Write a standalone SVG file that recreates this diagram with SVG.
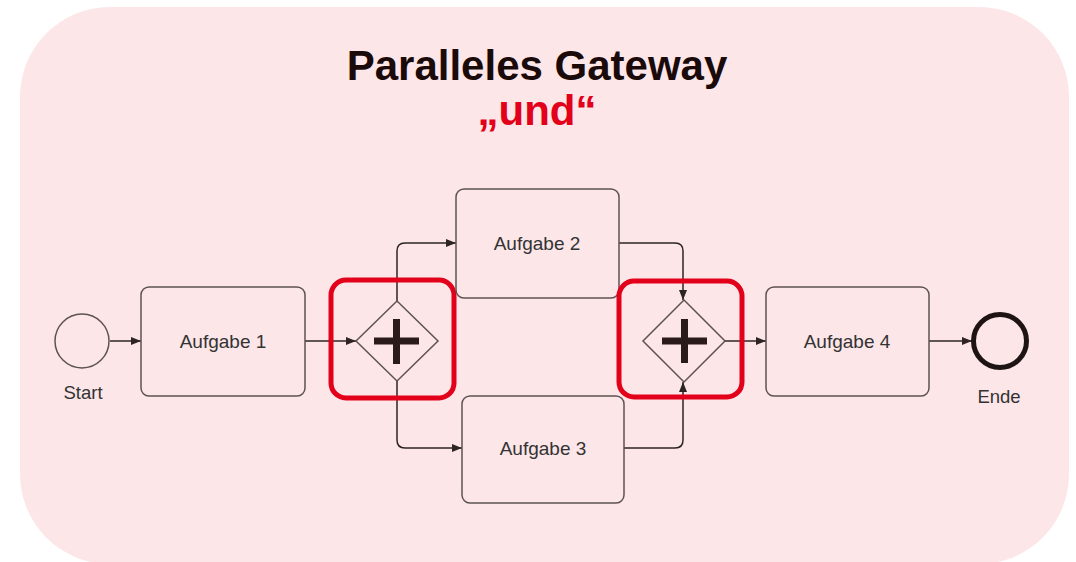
<svg xmlns="http://www.w3.org/2000/svg" width="1076" height="562" viewBox="0 0 1076 562">
<style>
.task{fill:none;stroke:#5e5252;stroke-width:1.5}
.lbl{font-family:"Liberation Sans",Arial,sans-serif;font-size:19px;fill:#333;text-anchor:middle}
.conn{fill:none;stroke:#2e2424;stroke-width:1.5}
.gw{fill:none;stroke:#5e5252;stroke-width:1.5}
.plus{stroke:#2a1a1a;stroke-width:7;fill:none}
.hl{fill:none;stroke:#e2001a;stroke-width:5}
</style>
<defs>
<marker id="arr" viewBox="0 0 10 10" refX="10" refY="5" markerWidth="10" markerHeight="10" markerUnits="userSpaceOnUse" orient="auto">
<path d="M0,1 L10,5 L0,9 Z" fill="#2e2424"/>
</marker>
</defs>
<rect x="20" y="7" width="1049" height="557" rx="90" ry="90" fill="#fce6e8"/>
<text x="537" y="80" font-family="Liberation Sans,Arial,sans-serif" font-weight="bold" font-size="42" text-anchor="middle" fill="#1a0a0a">Paralleles Gateway</text>
<text x="537" y="125" font-family="Liberation Sans,Arial,sans-serif" font-weight="bold" font-size="42" text-anchor="middle" fill="#e2001a">„und“</text>
<g id="connectors">
<path class="conn" d="M110,341 H141" marker-end="url(#arr)"/>
<path class="conn" d="M305,341 H356" marker-end="url(#arr)"/>
<path class="conn" d="M397,301 V251 Q397,243 405,243 H456" marker-end="url(#arr)"/>
<path class="conn" d="M397,381 V440 Q397,448 405,448 H462" marker-end="url(#arr)"/>
<path class="conn" d="M619,243 H675 Q683,243 683,251 V300" marker-end="url(#arr)"/>
<path class="conn" d="M624,448 H675 Q683,448 683,440 V382" marker-end="url(#arr)"/>
<path class="conn" d="M725,341 H766" marker-end="url(#arr)"/>
<path class="conn" d="M929,341 H972" marker-end="url(#arr)"/>
</g>
<g id="start">
<circle cx="82" cy="341" r="27" fill="none" stroke="#5e5252" stroke-width="1.5"/>
<text class="lbl" x="83" y="399" style="font-size:18.5px">Start</text>
</g>
<g id="task1">
<rect class="task" x="141" y="287" width="164" height="109" rx="8"/>
<text class="lbl" x="223" y="348">Aufgabe 1</text>
</g>
<g id="gateway1">
<path class="gw" d="M397,301 L438,341 L397,381 L356,341 Z"/>
<path class="plus" d="M374,341 H419 M396.5,319 V364"/>
<rect class="hl" x="331" y="280" width="123" height="118" rx="15"/>
</g>
<g id="task2">
<rect class="task" x="456" y="189" width="163" height="109" rx="8"/>
<text class="lbl" x="537" y="250">Aufgabe 2</text>
</g>
<g id="task3">
<rect class="task" x="462" y="396" width="162" height="107" rx="8"/>
<text class="lbl" x="543" y="455">Aufgabe 3</text>
</g>
<g id="gateway2">
<path class="gw" d="M684,300 L725,341 L684,382 L643,341 Z"/>
<path class="plus" d="M662,341 H707 M684.5,319 V363"/>
<rect class="hl" x="619" y="281" width="123" height="116" rx="15"/>
</g>
<g id="task4">
<rect class="task" x="766" y="287" width="163" height="109" rx="8"/>
<text class="lbl" x="847" y="348">Aufgabe 4</text>
</g>
<g id="end">
<circle cx="1000" cy="341" r="26.5" fill="none" stroke="#1e1414" stroke-width="5"/>
<text class="lbl" x="999" y="403" style="font-size:18.5px">Ende</text>
</g>
</svg>
